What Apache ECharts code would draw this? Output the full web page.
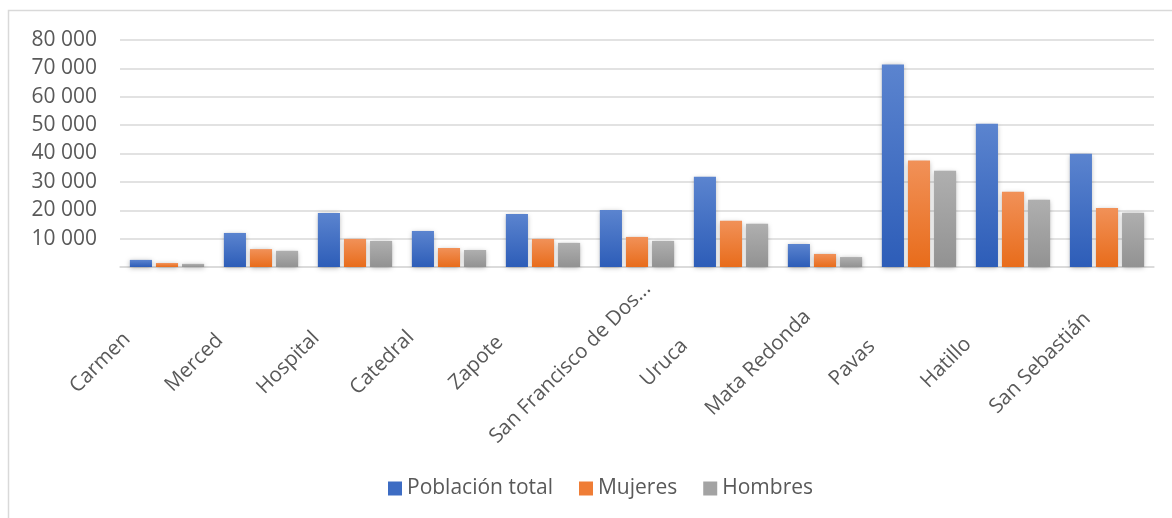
<!DOCTYPE html>
<html>
<head>
<meta charset="utf-8">
<script src="https://cdn.jsdelivr.net/npm/echarts@6/dist/echarts.min.js"></script>
<style>
  html, body { margin: 0; padding: 0; background: #ffffff; }
  #chart { width: 1172px; height: 518px; }
</style>
</head>
<body>
<div id="chart"></div>
<script>
// Districts of the canton and their population by sex
const categories = ['Carmen', 'Merced', 'Hospital', 'Catedral', 'Zapote', 'San Francisco de Dos Ríos',
  'Uruca', 'Mata Redonda', 'Pavas', 'Hatillo', 'San Sebastián'];
const seriesNames = ['Población total', 'Mujeres', 'Hombres'];
const poblacionTotal = [2500, 12000, 19000, 12700, 18700, 20100, 31800, 8100, 71400, 50500, 39900];
const mujeres = [1400, 6300, 9900, 6700, 9900, 10600, 16300, 4600, 37500, 26500, 20800];
const hombres = [1100, 5700, 9200, 6000, 8500, 9200, 15200, 3500, 33900, 23700, 19100];
const yMin = 0, yMax = 80000, yStep = 10000;

const FONT = '"Open Sans", "DejaVu Sans", sans-serif';
const TEXT = '#595959';
const GRID = '#d9d9d9';

function grad(top, bottom) {
  return new echarts.graphic.LinearGradient(0, 0, 0, 1, [
    { offset: 0, color: top },
    { offset: 1, color: bottom }
  ]);
}
const fills = [
  grad('#5b84cf', '#2d5db8'),
  grad('#f19158', '#e86c1b'),
  grad('#afafaf', '#929292')
];
const legendColors = ['#3d6cc3', '#ef7d36', '#a3a3a3'];

function fmtThousands(v) {
  if (v === 0) return '';
  return String(v).replace(/\B(?=(\d{3})+(?!\d))/g, ' ');
}
function shortName(v) {
  return v.length > 22 ? v.slice(0, 20) + '...' : v;
}

const values = [poblacionTotal, mujeres, hombres];

const chart = echarts.init(document.getElementById('chart'), null, { renderer: 'canvas' });
chart.setOption({
  animation: false,
  backgroundColor: '#ffffff',
  textStyle: { fontFamily: FONT },
  graphic: [{
    type: 'rect',
    silent: true,
    shape: { x: 8.5, y: 10.5, width: 1300, height: 700 },
    style: { fill: 'none', stroke: GRID, lineWidth: 1.5 }
  }],
  legend: {
    data: seriesNames.map((n, i) => ({ name: n, itemStyle: { color: legendColors[i] } })),
    left: 383,
    top: 473,
    icon: 'rect',
    itemWidth: 14,
    itemHeight: 14,
    itemGap: 26,
    textStyle: { fontFamily: FONT, fontSize: 21, color: TEXT }
  },
  grid: {
    left: 120, right: 18, top: 40, bottom: 251,
    outerBoundsMode: 'none'
  },
  xAxis: {
    type: 'category',
    data: categories,
    axisLine: { show: true, lineStyle: { color: GRID, width: 1.5 } },
    axisTick: { show: false },
    axisLabel: {
      interval: 0,
      rotate: 45,
      align: 'center',
      verticalAlign: 'middle',
      margin: 29,
      padding: [0, 189, 0, 0],
      fontFamily: FONT,
      fontSize: 20.5,
      color: TEXT,
      formatter: shortName
    }
  },
  yAxis: {
    type: 'value',
    min: yMin, max: yMax, interval: yStep,
    axisLine: { show: false },
    axisTick: { show: false },
    splitLine: { lineStyle: { color: GRID, width: 1.5 } },
    axisLabel: {
      margin: 23,
      fontFamily: FONT,
      fontSize: 21,
      color: TEXT,
      formatter: fmtThousands
    }
  },
  series: seriesNames.map((name, i) => ({
    name: name,
    type: 'bar',
    data: values[i],
    barGap: '18%',
    barCategoryGap: '21%',
    itemStyle: {
      color: fills[i],
      shadowBlur: 5,
      shadowColor: 'rgba(0,0,0,0.3)',
      shadowOffsetY: 1
    }
  }))
});
</script>
</body>
</html>
